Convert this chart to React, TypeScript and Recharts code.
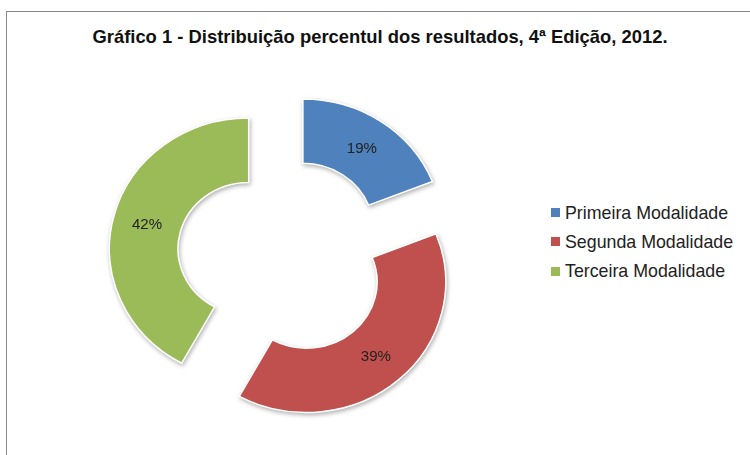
import React from 'react';
import { PieChart, Pie, Cell } from 'recharts';

const categories = ['Primeira Modalidade', 'Segunda Modalidade', 'Terceira Modalidade'];
const percentages = [19, 39, 42];
const colors = ['#4F81BD', '#C0504D', '#9BBB59'];

const chartTitle = 'Gráfico 1 - Distribuição percentul dos resultados, 4ª Edição, 2012.';

const data = categories.map((name, i) => ({ name, value: percentages[i] }));

// exploded doughnut: every slice is pushed out from the common centre along its mid angle
const CENTER_X = 283;
const CENTER_Y = 257;
const EXPLODE = 34;
const OUTER = 134;
const INNER = 68;
const RAD = Math.PI / 180;

const total = percentages.reduce((a, b) => a + b, 0);
const sliceCenters = percentages.map((v, i) => {
  const before = percentages.slice(0, i).reduce((a, b) => a + b, 0);
  const mid = ((before + v / 2) / total) * 360; // clockwise from 12 o'clock
  return {
    cx: CENTER_X + EXPLODE * Math.sin(mid * RAD),
    cy: CENTER_Y - EXPLODE * Math.cos(mid * RAD),
  };
});

const labelFont = '"Liberation Sans", Arial, sans-serif';

const makeLabel = (owner: number) => (props: any) => {
  const { cx, cy, midAngle, innerRadius, outerRadius, index, value } = props;
  if (index !== owner) return null;
  const r = (innerRadius + outerRadius) / 2;
  const x = cx + r * Math.cos(-midAngle * RAD);
  const y = cy + r * Math.sin(-midAngle * RAD);
  return (
    <text
      x={x}
      y={y}
      textAnchor="middle"
      dominantBaseline="central"
      fontSize={14.5}
      fontFamily={labelFont}
      fill="#222"
    >
      {`${value}%`}
    </text>
  );
};

export default function App() {
  return (
    <div
      style={{
        position: 'absolute',
        left: 0,
        top: 0,
        width: 750,
        height: 455,
        background: '#fff',
        overflow: 'hidden',
      }}
    >
      <div
        style={{
          position: 'absolute',
          left: 6,
          top: 11,
          width: 800,
          height: 500,
          borderLeft: '1px solid #8a8a8a',
          borderTop: '1px solid #8a8a8a',
        }}
      />
      <div
        style={{
          position: 'absolute',
          left: 0,
          top: 26,
          width: 760,
          textAlign: 'center',
          fontFamily: labelFont,
          fontWeight: 'bold',
          fontSize: 18.4,
          color: '#111',
          whiteSpace: 'nowrap',
        }}
      >
        {chartTitle}
      </div>

      {/* the source picture is slightly stretched sideways */}
      <div
        style={{
          position: 'absolute',
          left: 0,
          top: 0,
          transform: 'scale(1.04, 0.975)',
          transformOrigin: `${CENTER_X}px ${CENTER_Y}px`,
        }}
      >
        <PieChart width={750} height={455} margin={{ top: 0, right: 0, bottom: 0, left: 0 }}>
          {sliceCenters.map((c, owner) => (
            <Pie
              key={owner}
              data={data}
              dataKey="value"
              nameKey="name"
              cx={c.cx}
              cy={c.cy}
              innerRadius={INNER}
              outerRadius={OUTER}
              startAngle={90}
              endAngle={-270}
              label={makeLabel(owner)}
              labelLine={false}
              isAnimationActive={false}
            >
              {data.map((d, i) => (
                <Cell
                  key={d.name}
                  fill={i === owner ? colors[i] : 'none'}
                  stroke={i === owner ? '#ffffff' : 'none'}
                  strokeWidth={1.5}
                  style={i === owner ? { filter: 'drop-shadow(1px 2px 2px rgba(0,0,0,0.3))' } : undefined}
                />
              ))}
            </Pie>
          ))}
        </PieChart>
      </div>

      <div style={{ position: 'absolute', left: 551, top: 198, fontFamily: labelFont, fontSize: 17.8, color: '#222' }}>
        {categories.map((name, i) => (
          <div key={name} style={{ display: 'flex', alignItems: 'center', height: 29.3 }}>
            <span style={{ display: 'inline-block', width: 9, height: 9, background: colors[i], marginRight: 5 }} />
            <span style={{ lineHeight: '20px' }}>{name}</span>
          </div>
        ))}
      </div>
    </div>
  );
}
